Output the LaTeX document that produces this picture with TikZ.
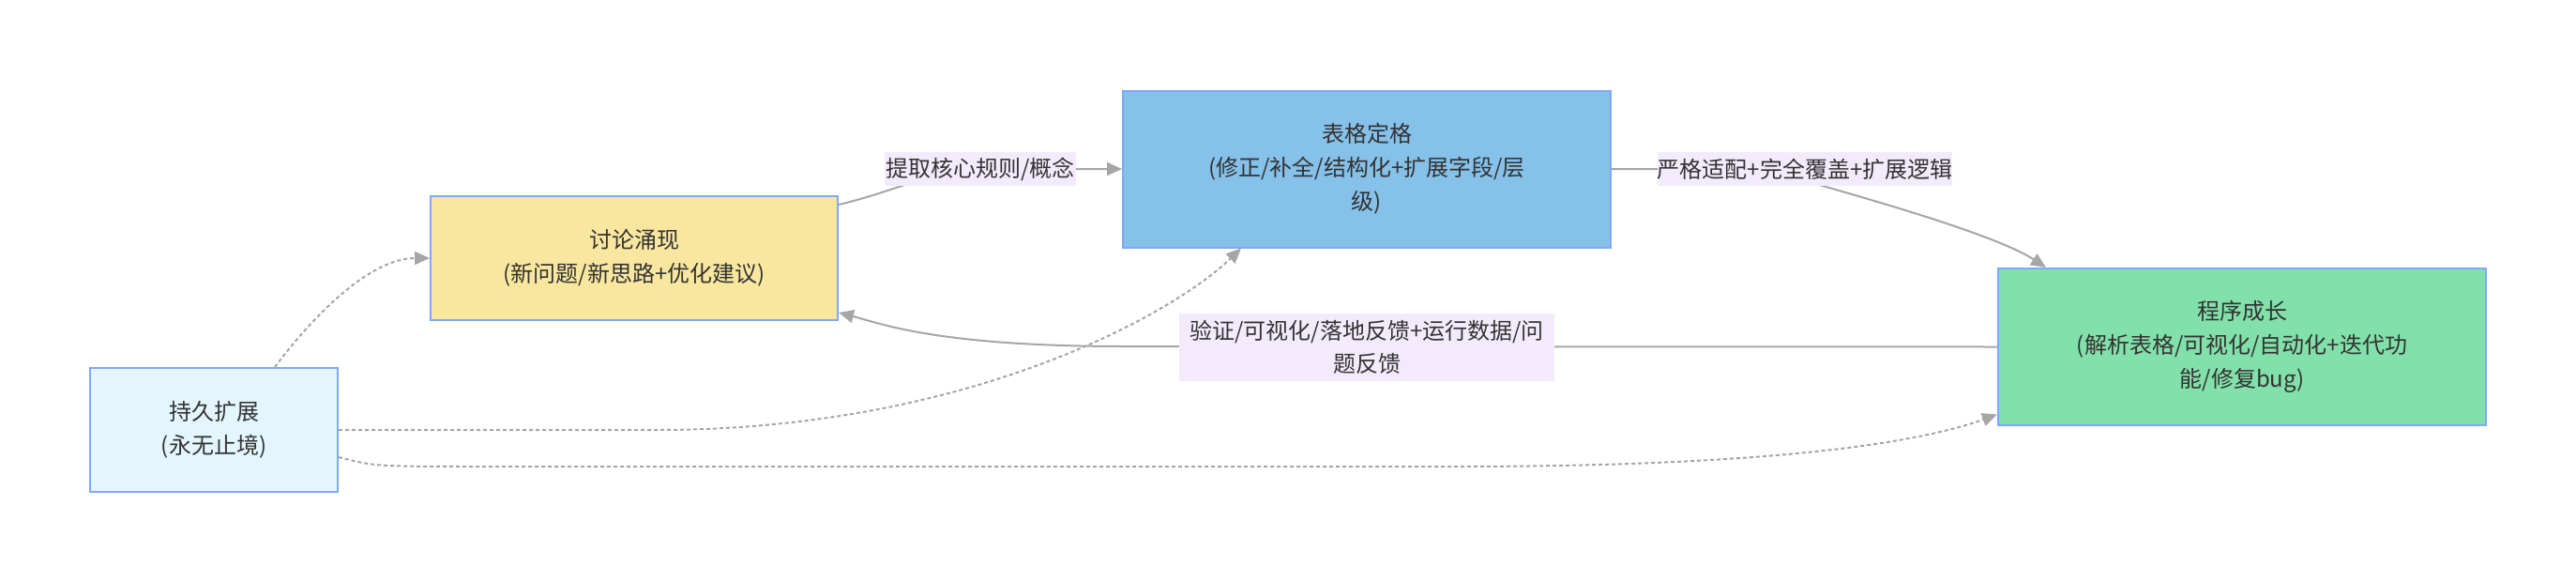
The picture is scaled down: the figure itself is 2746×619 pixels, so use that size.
\documentclass[tikz,border=0pt]{standalone}
\usepackage{fontspec}
\newfontfamily\cjk{Noto Sans CJK SC}
\usetikzlibrary{arrows.meta}

\definecolor{boxline}{HTML}{7FA8F8}
\definecolor{talkfill}{HTML}{F9E79F}
\definecolor{tablefill}{HTML}{85C1E9}
\definecolor{progfill}{HTML}{82E0AA}
\definecolor{extfill}{HTML}{E3F5FD}
\definecolor{labfill}{HTML}{F3EBFC}
\definecolor{linkcol}{HTML}{A6A6A6}
\definecolor{txt}{HTML}{333333}

\tikzset{
  box/.style={draw=boxline, line width=2pt, inner sep=0pt, align=center, text=txt,
    font=\cjk\fontsize{24}{36}\selectfont},
  lab/.style={fill=labfill, inner sep=0pt, align=center, text=txt,
    font=\cjk\fontsize{24}{35}\selectfont},
  link/.style={draw=linkcol, line width=2pt,
    -{Triangle[length=16pt, width=14pt, fill=linkcol]}},
  dlink/.style={link, dash pattern=on 4pt off 3pt}
}

\begin{document}
\begin{tikzpicture}[x=1pt, y=-1pt]
    \useasboundingbox (0,0) rectangle (2746,619);
    % stages
    \node [box, fill=talkfill, minimum width=434pt, minimum height=132pt] (talk) at (676,275) {讨论涌现\\(新问题/新思路+优化建议)};
    \node [box, fill=tablefill, minimum width=520pt, minimum height=167pt] (table) at (1457,180) {表格定格\\(修正/补全/结构化+扩展字段/层\\级)};
    \node [box, fill=progfill, minimum width=520pt, minimum height=167pt] (prog) at (2390,369.5) {程序成长\\(解析表格/可视化/自动化+迭代功\\能/修复bug)};
    \node [box, fill=extfill, minimum width=264pt, minimum height=132pt] (ext) at (228,458) {持久扩展\\(永无止境)};
    % main cycle
    \draw [link] ([yshift=-10pt]talk.north east) .. controls (950,205) and (1000,180) .. (1045,180) -- (table.west);
    \draw [link] (table.east) -- (1880,180) .. controls (1930,195) and (2120,245) .. ([xshift=52pt]prog.north west);
    \draw [link] (prog.west) -- (1200,369) .. controls (1000,369) and (940,345) .. ([yshift=9pt]talk.south east);
    % extension
    \draw [dlink] ([xshift=65pt]ext.north) .. controls (335,335) and (395,275) .. (talk.west);
    \draw [dlink] (ext.east) -- (700,458) .. controls (1030,458) and (1250,335) .. ([xshift=-134pt]table.south);
    \draw [dlink] ([yshift=-29pt]ext.east) .. controls (400,497) .. (520,497) -- (1550,497) .. controls (1900,497) and (2050,470) .. ([yshift=-72pt]prog.west);
    % edge labels
    \node [lab, minimum width=204pt, minimum height=36pt] (rules) at (1045,180) {提取核心规则/概念};
    \node [lab, minimum width=314pt, minimum height=36pt] (adapt) at (1924,180) {严格适配+完全覆盖+扩展逻辑};
    \node [lab, minimum width=400pt, minimum height=72pt] (feedback) at (1457,370) {验证/可视化/落地反馈+运行数据/问\\题反馈};
\end{tikzpicture}
\end{document}
